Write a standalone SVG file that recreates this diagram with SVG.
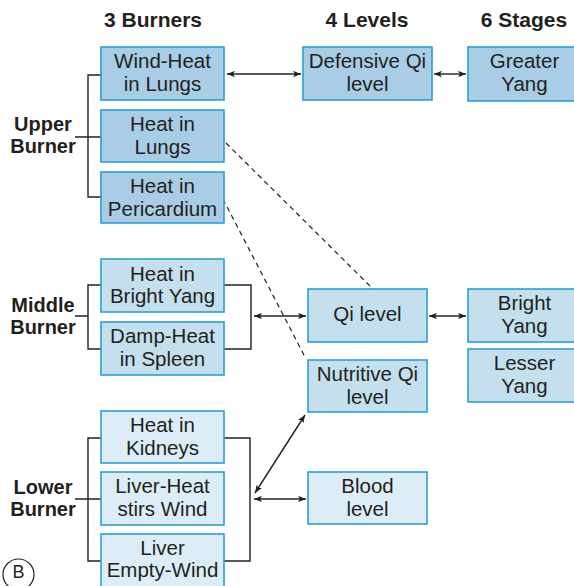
<svg xmlns="http://www.w3.org/2000/svg" width="574" height="586" viewBox="0 0 574 586">
  <defs>
    <marker id="arr" viewBox="0 0 10 8" refX="10" refY="4" markerWidth="8" markerHeight="6.4" markerUnits="userSpaceOnUse" orient="auto-start-reverse">
      <path d="M0,0 L10,4 L0,8 L2.5,4 Z" fill="#231f20"/>
    </marker>
    <style>
      .hd { font-family: "Liberation Sans", Arial, sans-serif; font-weight: bold; font-size: 21px; fill: #231f20; text-anchor: middle; }
      .lb { font-family: "Liberation Sans", Arial, sans-serif; font-weight: bold; font-size: 20px; fill: #231f20; text-anchor: middle; }
      .tx { font-family: "Liberation Sans", Arial, sans-serif; font-size: 20.5px; fill: #231f20; text-anchor: middle; }
      .box { stroke: #2b9fd4; stroke-width: 1.6; }
      .dark { fill: #a8cde5; }
      .mid { fill: #c4dfee; }
      .light { fill: #ddedf7; }
      .ln { fill: none; stroke: #231f20; stroke-width: 1.4; }
      .ar { fill: none; stroke: #231f20; stroke-width: 1.4; marker-start: url(#arr); marker-end: url(#arr); }
      .dash { fill: none; stroke: #231f20; stroke-width: 1.2; stroke-dasharray: 5 4; }
    </style>
  </defs>
  <rect width="574" height="586" fill="#ffffff"/>

  <!-- column headings -->
  <g id="headings">
    <text class="hd" x="153" y="27">3 Burners</text>
    <text class="hd" x="367" y="27">4 Levels</text>
    <text class="hd" x="524" y="27">6 Stages</text>
  </g>

  <!-- burner labels -->
  <g id="label-upper">
    <text class="lb" x="43" y="131">Upper</text>
    <text class="lb" x="43" y="153">Burner</text>
  </g>
  <g id="label-middle">
    <text class="lb" x="43" y="312">Middle</text>
    <text class="lb" x="43" y="334">Burner</text>
  </g>
  <g id="label-lower">
    <text class="lb" x="43" y="494">Lower</text>
    <text class="lb" x="43" y="516">Burner</text>
  </g>

  <!-- connectors -->
  <g id="connectors">
    <!-- upper burner bracket -->
    <path class="ln" d="M101,75 H88 V197 H101 M75,137 H101"/>
    <!-- middle burner brackets -->
    <path class="ln" d="M101,285 H88 V349 H101 M75,316 H88"/>
    <path class="ln" d="M224,285 H251 V349 H224"/>
    <!-- lower burner brackets -->
    <path class="ln" d="M101,438 H88 V561 H101 M75,499 H101"/>
    <path class="ln" d="M224,438 H250 V561 H224"/>
    <!-- two-way arrows -->
    <line class="ar" x1="227" y1="74" x2="301" y2="74"/>
    <line class="ar" x1="434" y1="74" x2="466" y2="74"/>
    <line class="ar" x1="254" y1="316" x2="306" y2="316"/>
    <line class="ar" x1="429" y1="316" x2="466" y2="316"/>
    <line class="ar" x1="254" y1="499" x2="306" y2="499"/>
    <line class="ar" x1="305" y1="415" x2="255" y2="493"/>
    <!-- dashed links -->
    <line class="dash" x1="226" y1="143" x2="373" y2="289"/>
    <line class="dash" x1="223" y1="199" x2="306" y2="359"/>
  </g>

  <!-- upper burner -->
  <g id="wind-heat-lungs">
    <rect class="box dark" x="101" y="47" width="123" height="53"/>
    <text class="tx" x="162.5" y="68">Wind-Heat</text>
    <text class="tx" x="162.5" y="91">in Lungs</text>
  </g>
  <g id="heat-lungs">
    <rect class="box dark" x="101" y="110" width="123" height="52"/>
    <text class="tx" x="162.5" y="131">Heat in</text>
    <text class="tx" x="162.5" y="154">Lungs</text>
  </g>
  <g id="heat-pericardium">
    <rect class="box dark" x="101" y="172" width="123" height="51"/>
    <text class="tx" x="162.5" y="193">Heat in</text>
    <text class="tx" x="162.5" y="216">Pericardium</text>
  </g>

  <!-- middle burner -->
  <g id="heat-bright-yang">
    <rect class="box mid" x="101" y="259" width="123" height="53"/>
    <text class="tx" x="162.5" y="281">Heat in</text>
    <text class="tx" x="162.5" y="303">Bright Yang</text>
  </g>
  <g id="damp-heat-spleen">
    <rect class="box mid" x="101" y="322" width="123" height="53"/>
    <text class="tx" x="162.5" y="343">Damp-Heat</text>
    <text class="tx" x="162.5" y="366">in Spleen</text>
  </g>

  <!-- lower burner -->
  <g id="heat-kidneys">
    <rect class="box light" x="101" y="411" width="123" height="52"/>
    <text class="tx" x="162.5" y="432">Heat in</text>
    <text class="tx" x="162.5" y="455">Kidneys</text>
  </g>
  <g id="liver-heat-wind">
    <rect class="box light" x="101" y="472" width="123" height="53"/>
    <text class="tx" x="162.5" y="493">Liver-Heat</text>
    <text class="tx" x="162.5" y="516">stirs Wind</text>
  </g>
  <g id="liver-empty-wind">
    <rect class="box light" x="101" y="534" width="123" height="60"/>
    <text class="tx" x="162.5" y="555">Liver</text>
    <text class="tx" x="162.5" y="577">Empty-Wind</text>
  </g>

  <!-- levels -->
  <g id="defensive-qi">
    <rect class="box dark" x="303" y="47" width="129" height="53"/>
    <text class="tx" x="367.5" y="68">Defensive Qi</text>
    <text class="tx" x="367.5" y="91">level</text>
  </g>
  <g id="qi-level">
    <rect class="box mid" x="308" y="289" width="119" height="53"/>
    <text class="tx" x="367.5" y="321">Qi level</text>
  </g>
  <g id="nutritive-qi">
    <rect class="box mid" x="308" y="360" width="119" height="52"/>
    <text class="tx" x="367.5" y="381">Nutritive Qi</text>
    <text class="tx" x="367.5" y="404">level</text>
  </g>
  <g id="blood-level">
    <rect class="box light" x="308" y="472" width="119" height="52"/>
    <text class="tx" x="367.5" y="493">Blood</text>
    <text class="tx" x="367.5" y="516">level</text>
  </g>

  <!-- stages -->
  <g id="greater-yang">
    <rect class="box dark" x="468" y="47" width="115" height="54"/>
    <text class="tx" x="524.5" y="68">Greater</text>
    <text class="tx" x="524.5" y="91">Yang</text>
  </g>
  <g id="bright-yang">
    <rect class="box mid" x="468" y="289" width="115" height="53"/>
    <text class="tx" x="524.5" y="310">Bright</text>
    <text class="tx" x="524.5" y="333">Yang</text>
  </g>
  <g id="lesser-yang">
    <rect class="box mid" x="468" y="349" width="115" height="53"/>
    <text class="tx" x="524.5" y="370">Lesser</text>
    <text class="tx" x="524.5" y="393">Yang</text>
  </g>

  <!-- panel letter -->
  <g id="panel-b">
    <circle cx="18.5" cy="574.5" r="15.5" fill="none" stroke="#231f20" stroke-width="1.2"/>
    <text x="18.5" y="578" font-family="'Liberation Sans', Arial, sans-serif" font-size="18" fill="#231f20" text-anchor="middle">B</text>
  </g>
</svg>
